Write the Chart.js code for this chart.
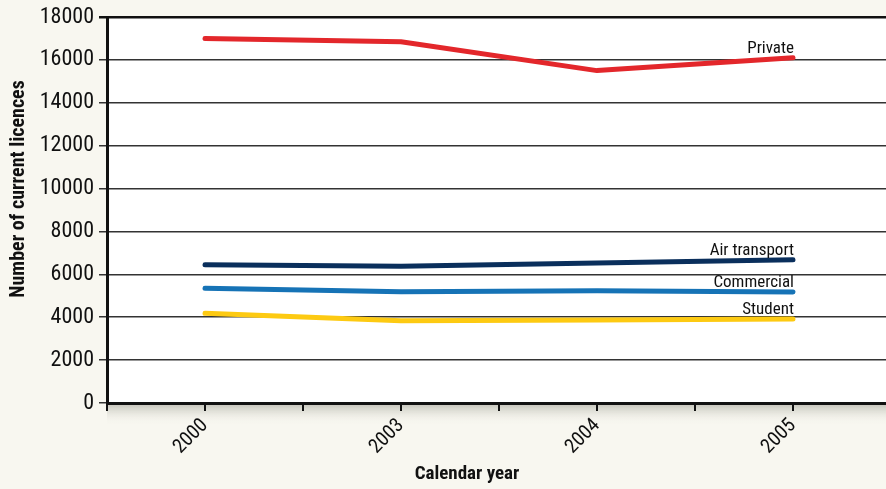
<!DOCTYPE html>
<html lang="en">
<head>
    <meta charset="UTF-8">
    <title>Current licences by calendar year</title>
    <script src="https://cdn.jsdelivr.net/npm/chart.js"></script>
    <style>
        html, body {
            margin: 0;
            padding: 0;
            background: #f8f7f0;
            overflow: hidden;
        }

        #licenceChart {
            display: block;
        }
    </style>
</head>
<body>
    <canvas id="licenceChart" width="891" height="489"></canvas>

    <script>
        const years = ['2000', '2003', '2004', '2005'];
        const yTicks = [0, 2000, 4000, 6000, 8000, 10000, 12000, 14000, 16000, 18000];

        const privateLicences = [17000, 16850, 15500, 16100];
        const airTransport = [6450, 6380, 6530, 6680];
        const commercial = [5350, 5190, 5240, 5180];
        const student = [4180, 3830, 3870, 3920];

        const seriesNames = ['Private', 'Air transport', 'Commercial', 'Student'];
        const seriesColours = ['#e3272b', '#0a2f5c', '#1673b6', '#fdca12'];

        const FONT = '"Liberation Sans Narrow", "Roboto Condensed", "DejaVu Sans Condensed", Arial, sans-serif';

        function toPoints(values) {
            return values.map((v, i) => ({ x: i, y: v }));
        }

        const datasets = [privateLicences, airTransport, commercial, student].map((vals, i) => ({
            label: seriesNames[i],
            data: toPoints(vals),
            borderColor: seriesColours[i],
            borderWidth: 5,
            borderCapStyle: 'round',
            borderJoinStyle: 'round',
            pointRadius: 0,
            tension: 0,
            fill: false
        }));

        // white plot area, shadow under the x axis
        const plotBackground = {
            id: 'plotBackground',
            beforeDraw(chart) {
                const { ctx, chartArea: a } = chart;
                ctx.save();
                const g = ctx.createLinearGradient(0, a.bottom, 0, a.bottom + 22);
                g.addColorStop(0, 'rgba(170,170,160,0.75)');
                g.addColorStop(1, 'rgba(248,247,240,0)');
                ctx.fillStyle = g;
                ctx.fillRect(a.left, a.bottom, a.right - a.left, 22);
                ctx.fillStyle = '#ffffff';
                ctx.fillRect(a.left, a.top, a.right - a.left, a.bottom - a.top);
                ctx.restore();
            }
        };

        // series names at the end of each line, axis titles
        const labelsPlugin = {
            id: 'labelsPlugin',
            afterDatasetsDraw(chart) {
                const { ctx } = chart;
                ctx.save();
                ctx.fillStyle = '#111111';
                ctx.font = '17px ' + FONT;
                ctx.textAlign = 'right';
                ctx.textBaseline = 'alphabetic';
                chart.data.datasets.forEach((ds, i) => {
                    const pts = chart.getDatasetMeta(i).data;
                    const last = pts[pts.length - 1];
                    ctx.fillText(ds.label, last.x + 1, last.y - 5);
                });

                ctx.font = 'bold 19px ' + FONT;
                ctx.textAlign = 'center';
                ctx.textBaseline = 'middle';
                ctx.fillText('Calendar year', 467, 474);

                ctx.font = 'bold 20px ' + FONT;
                ctx.translate(19, 189);
                ctx.rotate(-Math.PI / 2);
                ctx.fillText('Number of current licences', 0, 0);
                ctx.restore();
            }
        };

        const ctx = document.getElementById('licenceChart').getContext('2d');

        new Chart(ctx, {
            type: 'line',
            data: { datasets: datasets },
            plugins: [plotBackground, labelsPlugin],
            options: {
                responsive: false,
                animation: false,
                layout: { padding: { top: 17, right: 0, left: 0, bottom: 0 } },
                plugins: {
                    legend: { display: false },
                    tooltip: { enabled: false }
                },
                scales: {
                    x: {
                        type: 'linear',
                        min: -0.5,
                        max: 3.5,
                        afterFit(scale) {
                            scale.height = 86;
                            scale.paddingLeft = 0;
                            scale.paddingRight = 0;
                        },
                        afterBuildTicks(scale) {
                            const t = [];
                            for (let v = -0.5; v <= 3.5; v += 0.5) t.push({ value: v });
                            scale.ticks = t;
                        },
                        ticks: {
                            autoSkip: false,
                            minRotation: 45,
                            maxRotation: 45,
                            padding: 3,
                            color: '#111111',
                            font: { family: FONT, size: 20 },
                            callback: (v) => Number.isInteger(v) && years[v] ? years[v] : ''
                        },
                        grid: {
                            drawOnChartArea: false,
                            drawTicks: true,
                            tickLength: 8,
                            color: '#111111',
                            lineWidth: 2
                        },
                        border: { color: '#111111', width: 3 }
                    },
                    y: {
                        min: 0,
                        max: 18000,
                        afterFit(scale) {
                            scale.width = 107;
                            scale.paddingTop = 0;
                            scale.paddingBottom = 0;
                        },
                        afterBuildTicks(scale) {
                            scale.ticks = yTicks.map(v => ({ value: v }));
                        },
                        ticks: {
                            padding: 5,
                            color: '#111111',
                            font: { family: FONT, size: 22 },
                            callback: (v) => String(v)
                        },
                        grid: {
                            tickLength: 8,
                            color: (c) => c.tick && c.tick.value === 18000 ? '#111111' : '#333333',
                            lineWidth: (c) => c.tick && c.tick.value === 18000 ? 2.5 : 1.5
                        },
                        border: { color: '#111111', width: 3 }
                    }
                }
            }
        });
    </script>
</body>
</html>
